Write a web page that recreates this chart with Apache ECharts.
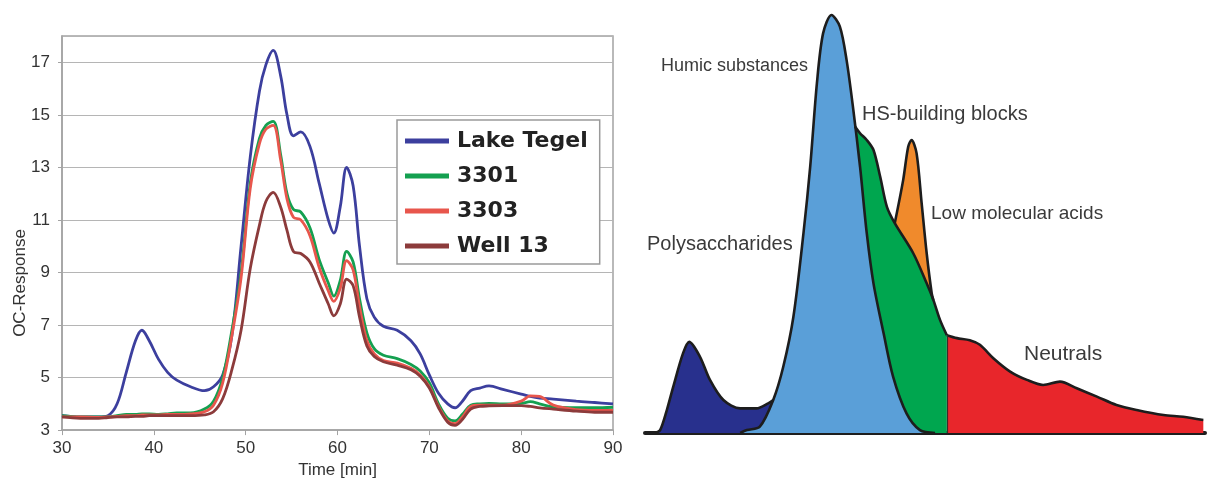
<!DOCTYPE html>
<html>
<head>
<meta charset="utf-8">
<title>OC-Response chromatogram</title>
<script src="https://cdn.jsdelivr.net/npm/echarts@6/dist/echarts.min.js"></script>
<style>
  html, body { margin: 0; padding: 0; background: #fff; }
  #chart { width: 1207px; height: 484px; }
</style>
</head>
<body>
<div id="chart"></div>
<script>
// ============================================================
// Left panel: LC-OCD chromatograms (time in min, OC response)
// ============================================================
const time = [30, 32, 34, 35, 36, 37, 38, 38.7, 39.5, 40.5, 41.5, 42.5, 44, 45.5, 46.5, 47.5, 48.5, 49.5,
  50.5, 51.5, 52.2, 53, 53.8, 54.5, 55.2, 56, 57, 58, 59, 59.6, 60.3, 61, 61.7, 62.4, 63.2, 64, 65, 66.5,
  68, 69, 70, 71, 72, 72.8, 73.6, 74.5, 75.5, 76.5, 78, 80, 81, 82, 83.5, 86, 88, 90];

const lakeTegel = [3.55, 3.5, 3.5, 3.55, 4.0, 5.2, 6.4, 6.8, 6.4, 5.7, 5.2, 4.9, 4.65, 4.5, 4.65, 5.1, 6.6, 10.0,
  13.4, 15.9, 16.9, 17.45, 16.5, 15.0, 14.2, 14.35, 13.8, 12.4, 11.0, 10.5, 11.5, 13.0, 12.3, 10.0, 8.0, 7.3, 6.95, 6.8,
  6.4, 5.9, 5.1, 4.4, 4.0, 3.85, 4.1, 4.5, 4.6, 4.68, 4.55, 4.37, 4.28, 4.22, 4.18, 4.1, 4.05, 4.0];

const s3301 = [3.55, 3.5, 3.5, 3.5, 3.55, 3.6, 3.6, 3.62, 3.62, 3.6, 3.62, 3.65, 3.65, 3.8, 4.1, 5.0, 6.8, 9.0,
  12.4, 14.1, 14.6, 14.75, 13.5, 12.0, 11.4, 11.3, 10.7, 9.5, 8.6, 8.1, 8.7, 9.8, 9.4, 8.0, 6.7, 6.1, 5.85, 5.72,
  5.5, 5.25, 4.8, 4.0, 3.45, 3.35, 3.6, 3.95, 4.0, 4.02, 4.0, 4.02, 4.08, 4.0, 3.88, 3.85, 3.85, 3.87];

const s3303 = [3.5, 3.5, 3.48, 3.5, 3.52, 3.55, 3.55, 3.58, 3.58, 3.58, 3.6, 3.6, 3.62, 3.7, 3.95, 4.8, 6.6, 8.8,
  12.2, 13.9, 14.45, 14.6, 13.3, 11.8, 11.1, 11.0, 10.4, 9.2, 8.3, 7.9, 8.4, 9.45, 9.1, 7.7, 6.4, 5.9, 5.65, 5.55,
  5.35, 5.1, 4.65, 3.9, 3.35, 3.25, 3.5, 3.9, 3.95, 3.95, 3.95, 4.1, 4.3, 4.28, 3.95, 3.78, 3.75, 3.75];

const well13 = [3.5, 3.45, 3.45, 3.48, 3.5, 3.5, 3.52, 3.52, 3.55, 3.55, 3.55, 3.55, 3.55, 3.58, 3.7, 4.2, 5.3, 6.8,
  9.15, 10.8, 11.7, 12.05, 11.5, 10.6, 9.8, 9.72, 9.4, 8.6, 7.8, 7.35, 7.8, 8.75, 8.5, 7.3, 6.2, 5.8, 5.6, 5.47,
  5.3, 5.05, 4.6, 3.85, 3.3, 3.18, 3.4, 3.8, 3.9, 3.92, 3.93, 3.93, 3.9, 3.85, 3.8, 3.72, 3.68, 3.68];

const sampleNames = ['Lake Tegel', '3301', '3303', 'Well 13'];
const sampleColors = ['#3c3f9e', '#14a050', '#e8564c', '#8c3b3b'];

// ============================================================
// Right panel: schematic fractions (relative units 0-100)
// ============================================================
const polyX = [1.8, 2.7, 3.9, 5.05, 6.8, 7.9, 9.8, 11.6, 14.0, 17.0, 19.9, 22.0, 22.9];
const polyY = [0, 0.7, 5.5, 11.1, 19.1, 21.8, 18.3, 12.7, 7.9, 5.9, 5.9, 7.1, 7.9];

const humicX = [17.0, 18.2, 20.5, 22.9, 24.7, 26.5, 28.3, 29.5, 30.7, 31.8, 33.3, 34.8, 36.0, 37.2, 38.4, 39.6, 40.8, 42.6, 44.3, 46.7, 49.1, 51.8];
const humicY = [0, 0.7, 1.5, 7.9, 15.9, 27.8, 47.8, 63.7, 83.7, 95.6, 100, 97.2, 89.2, 77.3, 63.7, 47.8, 35.8, 23.9, 13.5, 4.7, 0.7, 0];

const buildX = [37.5, 38.4, 39.6, 40.8, 42.0, 43.2, 44.6, 47.9, 50.3, 51.5, 52.7, 53.9];
const buildY = [73.3, 71.7, 70.1, 67.7, 61.3, 54.1, 50.2, 43.0, 35.8, 31.8, 27.0, 23.4];

const acidX = [44.6, 46.1, 47.0, 47.6, 48.5, 49.4, 50.3, 51.2, 51.5];
const acidY = [50.2, 60.5, 68.5, 70.1, 66.9, 55.0, 43.0, 33.4, 31.8];

const neutX = [53.9, 55.7, 58.0, 59.8, 62.2, 65.2, 68.2, 71.1, 74.1, 77.1, 80.7, 84.2, 87.8, 92.6, 96.1, 99.7];
const neutY = [23.4, 22.7, 22.2, 21.1, 17.9, 14.7, 12.7, 11.5, 12.3, 10.7, 8.7, 6.7, 5.5, 4.3, 3.9, 3.1];

const labelFont = '"Liberation Sans", Arial, sans-serif';

function pairs(xs, ys) {
  return xs.map(function(x, i) { return [x, ys[i]]; });
}

// ============================================================
// Build series
// ============================================================
const sampleValues = [lakeTegel, s3301, s3303, well13];

const lineSeries = sampleNames.map(function(name, k) {
  return {
    name: name,
    type: 'line',
    xAxisIndex: 0,
    yAxisIndex: 0,
    data: pairs(time, sampleValues[k]),
    smooth: 0.35,
    showSymbol: false,
    lineStyle: { color: sampleColors[k], width: 2.8 },
    itemStyle: { color: sampleColors[k] }
  };
});

function fraction(name, xs, ys, fill) {
  return {
    name: name,
    type: 'line',
    xAxisIndex: 1,
    yAxisIndex: 1,
    data: pairs(xs, ys),
    smooth: 0.3,
    showSymbol: false,
    clip: false,
    lineStyle: { color: '#1d1d1d', width: 2.6 },
    areaStyle: { color: fill, opacity: 1 }
  };
}

const areaSeries = [
  fraction('Neutrals', neutX, neutY, '#e8262b'),
  fraction('Low molecular acids', acidX, acidY, '#f08a2c'),
  fraction('HS-building blocks', buildX, buildY, '#00a64f'),
  fraction('Polysaccharides', polyX, polyY, '#28308d'),
  fraction('Humic substances', humicX, humicY, '#5a9fd8')
];

// thin border between building blocks and neutrals
areaSeries[0].markLine = {
  silent: true,
  symbol: 'none',
  label: { show: false },
  lineStyle: { color: '#3a2a2a', width: 1.2, type: 'solid' },
  data: [[{ coord: [neutX[0], 0] }, { coord: [neutX[0], neutY[0]] }]]
};

// ============================================================
// Annotation labels on the schematic
// ============================================================
function note(text, x, y, size) {
  return {
    type: 'text',
    left: x,
    top: y - size / 2 - 1,
    style: { text: text, fill: '#3a3a3a', font: size + 'px ' + labelFont }
  };
}

const option = {
  animation: false,
  backgroundColor: '#fff',
  legend: {
    data: sampleNames,
    orient: 'vertical',
    left: 397,
    top: 120,
    icon: 'rect',
    itemWidth: 44,
    itemHeight: 5,
    itemGap: 13,
    padding: [10, 12, 7, 8],
    backgroundColor: '#fff',
    borderColor: '#9a9a9a',
    borderWidth: 1.5,
    textStyle: {
      fontFamily: '"DejaVu Sans", sans-serif',
      fontWeight: 'bold',
      fontSize: 22,
      lineHeight: 22,
      color: '#222',
      padding: [0, 0, 0, 3]
    }
  },
  grid: [
    { left: 62, right: 594, top: 36, bottom: 51, show: true, borderColor: '#a3a3a3', borderWidth: 1.5 },
    { left: 645, right: 2, top: 15, bottom: 51 }
  ],
  xAxis: [
    {
      type: 'value', gridIndex: 0, min: 30, max: 90, interval: 10,
      name: 'Time [min]', nameLocation: 'middle', nameGap: 28,
      nameTextStyle: { fontFamily: labelFont, fontSize: 17, color: '#333' },
      axisLine: { lineStyle: { color: '#a3a3a3', width: 1.5 } },
      axisTick: { length: 5, lineStyle: { color: '#a3a3a3' } },
      axisLabel: { fontFamily: labelFont, fontSize: 17, color: '#333', margin: 10 },
      splitLine: { show: false }
    },
    {
      type: 'value', gridIndex: 1, min: 0, max: 100,
      axisLine: { show: true, lineStyle: { color: '#1e1e1e', width: 4 } },
      axisTick: { show: false },
      axisLabel: { show: false },
      splitLine: { show: false }
    }
  ],
  yAxis: [
    {
      type: 'value', gridIndex: 0, min: 3, max: 18, interval: 2,
      axisLine: { show: true, lineStyle: { color: '#a3a3a3', width: 1.5 } },
      axisTick: { show: true, length: 4, lineStyle: { color: '#a3a3a3' } },
      axisLabel: { fontFamily: labelFont, fontSize: 17, color: '#333', margin: 12, showMaxLabel: false },
      splitLine: { lineStyle: { color: '#b5b5b5', width: 1.2 } }
    },
    {
      type: 'value', gridIndex: 1, min: 0, max: 100,
      axisLine: { show: false },
      axisTick: { show: false },
      axisLabel: { show: false },
      splitLine: { show: false }
    }
  ],
  graphic: [
    {
      type: 'text',
      x: 20,
      y: 283,
      rotation: Math.PI / 2,
      style: {
        text: 'OC-Response', fill: '#333', font: '17px ' + labelFont,
        textAlign: 'center', textVerticalAlign: 'middle'
      }
    },
    note('Humic substances', 661, 67, 18),
    note('HS-building blocks', 862, 115, 20),
    note('Polysaccharides', 647, 245, 20),
    note('Low molecular acids', 931, 215, 19),
    note('Neutrals', 1024, 355, 21)
  ],
  series: lineSeries.concat(areaSeries)
};

const myChart = echarts.init(document.getElementById('chart'), null, { renderer: 'canvas' });
myChart.setOption(option);
</script>
</body>
</html>
